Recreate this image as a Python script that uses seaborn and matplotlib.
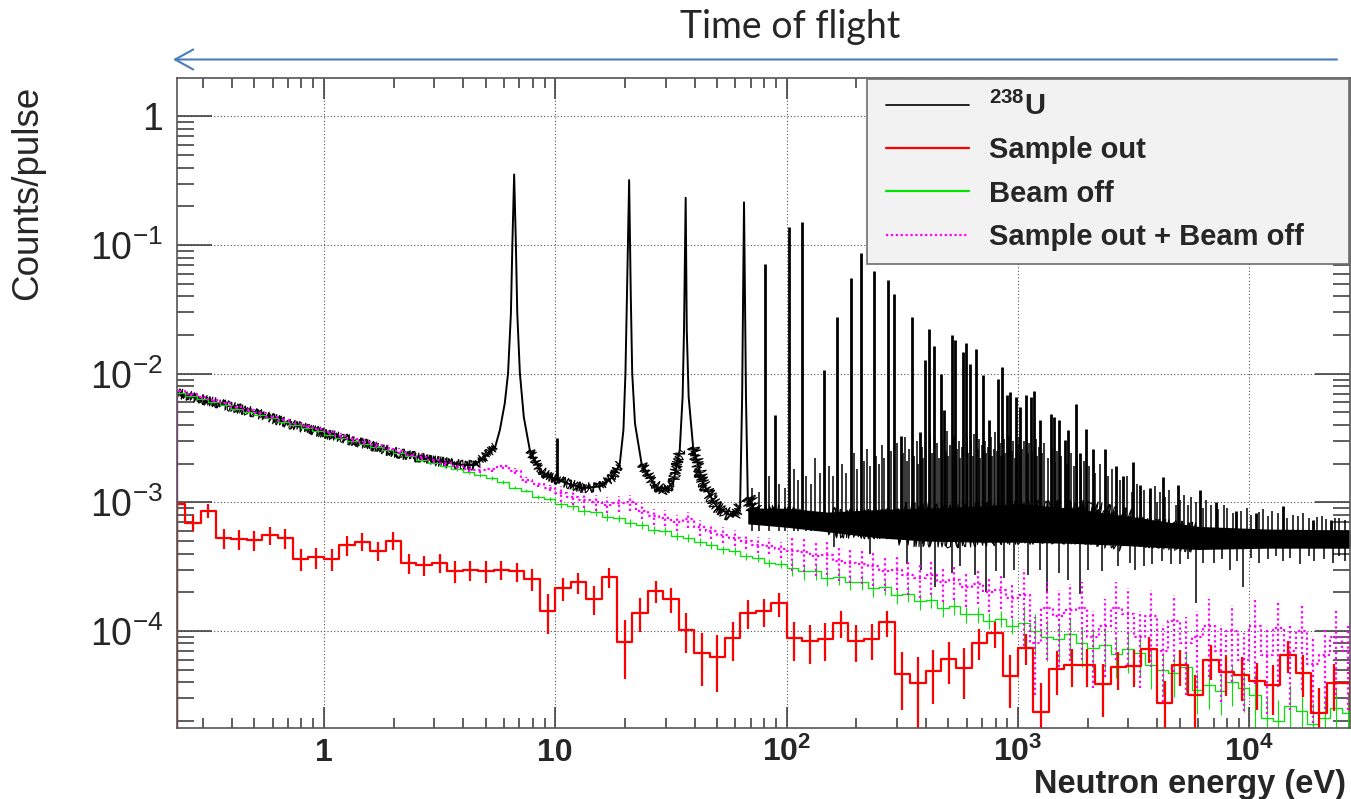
import numpy as np
import matplotlib
matplotlib.use("Agg")
import matplotlib.pyplot as plt
from matplotlib.lines import Line2D
from matplotlib.legend_handler import HandlerLine2D
from matplotlib.ticker import FixedLocator, FixedFormatter, LogLocator, NullFormatter
import seaborn as sns

# ------------------------------------------------------------------ data
# 238U spectrum: continuum incl. the broad s-wave resonances (eV, counts/pulse)
u238_energy = [0.231, 0.3, 0.5, 0.7, 1.0, 1.5, 2.0, 3.0, 4.0, 4.5, 5.0, 5.5,
               5.76, 6.05, 6.25, 6.43, 6.53, 6.64, 6.75, 6.85, 7.03, 7.31, 7.76,
               8.57, 9.45, 11.2, 13.2, 15.6, 17.8, 19.0,
               19.7, 20.1, 20.4, 20.85, 21.2, 21.5, 22.1, 23.6,
               26.5, 29.2, 32.3, 34.5,
               35.5, 36.0, 36.6, 37.0, 37.7, 39.4,
               43.5, 49.7, 58.6, 62.9,
               64.2, 65.4, 66.7, 67.9,
               74, 96, 125.7, 150, 200, 250, 300, 500, 1000, 2000, 3000, 6000, 12000, 27200]
u238_counts = [7.1e-3, 6.3e-3, 5.0e-3, 4.1e-3, 3.45e-3, 2.85e-3, 2.46e-3, 2.1e-3, 1.95e-3, 1.95e-3, 2.3e-3, 2.7e-3,
               3.65e-3, 5.9e-3, 1.01e-2, 2.95e-2, 0.109, 0.354, 0.109, 2.95e-2, 1.01e-2, 4.6e-3, 2.55e-3,
               1.79e-3, 1.58e-3, 1.41e-3, 1.29e-3, 1.33e-3, 1.58e-3, 2.0e-3,
               3.65e-3, 1.01e-2, 3.96e-2, 0.32, 3.96e-2, 1.01e-2, 4.1e-3, 2.0e-3,
               1.41e-3, 1.22e-3, 1.41e-3, 2.55e-3,
               6.6e-3, 2.19e-2, 0.233, 2.19e-2, 6.6e-3, 2.7e-3,
               1.41e-3, 9.3e-4, 7.7e-4, 9.3e-4,
               6.6e-3, 0.215, 6.6e-3, 1.1e-3,
               8.3e-4, 8.3e-4, 7.3e-4, 7.0e-4, 6.8e-4, 6.8e-4, 6.8e-4, 6.5e-4, 7.0e-4, 7.0e-4, 6.0e-4, 5.3e-4, 5.2e-4, 5.2e-4]

# dense unresolved part of the 238U band: energy, lower and upper edge
band_energy = [67.9, 100, 150, 250, 400, 700, 1000, 1700, 3000, 6000, 12000, 27200]
band_low = [6.8e-4, 6.4e-4, 5.9e-4, 5.3e-4, 5.0e-4, 4.9e-4, 4.9e-4, 4.8e-4, 4.6e-4, 4.3e-4, 4.4e-4, 4.4e-4]
band_high = [9.0e-4, 9.0e-4, 8.4e-4, 8.8e-4, 9.0e-4, 9.4e-4, 9.8e-4, 9.0e-4, 7.8e-4, 6.5e-4, 6.2e-4, 6.1e-4]

# narrow 238U resonances: energy, peak value, continuum at the foot
res_energy = [10.2, 80.7, 89.2, 102.5, 116.9, 145.7, 165.3, 189.7, 208.5, 237.4,
              273.7, 291.0, 311.0, 347.8, 376.9, 397.6, 410.3, 434.0, 463.4, 478.0,
              518.5, 535.4, 580.2, 594.9, 619.9, 661.2, 708.3, 752, 820.8, 856.1,
              894.6, 925, 981, 1022, 1083, 1138, 1168, 1245, 1382, 1423,
              1510, 1588, 1641, 1772, 1843, 1970, 2104, 2364, 2655, 2838,
              3135, 3350, 3702, 4226, 4909, 6085, 7182, 8770, 10700, 13960,
              18820, 22590]
res_top = [3.15e-3, 7.08e-2, 4.8e-3, 0.137, 0.150, 1.07e-2, 2.74e-2, 5.57e-2, 8.62e-2, 6.3e-2,
           5.35e-2, 4.14e-2, 3.3e-3, 2.74e-2, 3.5e-3, 1.28e-2, 2.21e-2, 1.64e-2, 9.9e-3, 5.2e-3,
           2.0e-2, 1.83e-2, 1.48e-2, 1.72e-2, 1.2e-2, 1.55e-2, 9.8e-3, 4.4e-3, 9.05e-3, 1.13e-2,
           6.8e-3, 7.2e-3, 6.6e-3, 5.5e-3, 6.8e-3, 6.6e-3, 7.4e-3, 4.4e-3, 4.9e-3, 4.6e-3,
           4.4e-3, 3.05e-3, 3.65e-3, 5.8e-3, 2.4e-3, 3.7e-3, 2.6e-3, 2.6e-3, 1.9e-3, 1.6e-3,
           2.07e-3, 1.37e-3, 1.29e-3, 1.58e-3, 1.37e-3, 1.25e-3, 1.01e-3, 8.5e-4, 8.2e-4, 9.3e-4,
           7.3e-4, 7.3e-4]
res_base = [1.5e-3, 8.5e-4, 8.4e-4, 8.2e-4, 7.8e-4, 7.1e-4, 7.0e-4, 6.9e-4, 6.8e-4, 6.8e-4,
            6.8e-4, 6.8e-4, 6.8e-4, 6.7e-4, 6.7e-4, 6.6e-4, 6.6e-4, 6.6e-4, 6.6e-4, 6.6e-4,
            6.5e-4, 6.5e-4, 6.5e-4, 6.5e-4, 6.6e-4, 6.6e-4, 6.7e-4, 6.7e-4, 6.8e-4, 6.8e-4,
            6.9e-4, 6.9e-4, 7.0e-4, 7.0e-4, 7.0e-4, 7.0e-4, 7.0e-4, 7.0e-4, 7.0e-4, 7.0e-4,
            7.0e-4, 7.0e-4, 7.0e-4, 7.0e-4, 7.0e-4, 7.0e-4, 6.8e-4, 6.6e-4, 6.4e-4, 6.2e-4,
            6.0e-4, 5.9e-4, 5.8e-4, 5.6e-4, 5.5e-4, 5.3e-4, 5.3e-4, 5.2e-4, 5.2e-4, 5.2e-4,
            5.2e-4, 5.2e-4]
# small unresolved resonances rising out of the band (estimated)
minor_energy = [71, 76, 84, 93, 98, 108, 112, 121, 127, 133, 139, 152, 158, 173, 180, 196, 202, 216, 222, 229,
                244, 251, 258, 264, 282, 300, 319, 326, 332, 339, 356, 364, 370, 385, 390, 418, 424, 447, 454, 470,
                486, 493, 500, 509, 526, 545, 554, 563, 571, 602, 610, 628, 637, 646, 669, 678, 688, 697, 718, 727,
                740, 762, 774, 786, 796, 808, 832, 844, 868, 880, 906, 916, 940, 955, 966, 995, 1008, 1040, 1060, 1100,
                1115, 1150, 1190, 1210, 1230, 1270, 1300, 1350, 1400, 1450, 1480, 1540, 1620, 1700, 1740, 1800, 1880, 1920, 2030, 2150,
                2250, 2450, 2550, 2750, 2950, 3250, 3500, 3900, 4100, 4500, 5200, 5600, 6500, 7800, 9800, 11500, 12500, 15500, 17000, 20500,
                24500, 3100, 3400, 3700, 4000, 4300, 4800, 5000, 5400, 5900, 6300, 6800, 7300, 8000, 8500, 9200,
                10200, 11000, 12000, 13300, 14600, 16200, 18000, 19500, 21500, 23500, 26000]
minor_top = [1.3e-3, 1.2e-3, 1.6e-3, 1.4e-3, 1.3e-3, 1.8e-3, 1.5e-3, 1.6e-3, 1.4e-3, 2.2e-3, 1.7e-3, 1.9e-3, 1.6e-3, 2.0e-3, 1.7e-3, 2.4e-3, 1.8e-3, 2.1e-3, 2.6e-3, 1.9e-3,
             2.3e-3, 2.0e-3, 2.8e-3, 2.2e-3, 2.5e-3, 2.9e-3, 2.4e-3, 3.2e-3, 2.1e-3, 2.6e-3, 2.3e-3, 3.0e-3, 2.0e-3, 2.7e-3, 2.2e-3, 3.4e-3, 2.4e-3, 2.9e-3, 2.2e-3, 3.1e-3,
             2.5e-3, 3.6e-3, 2.3e-3, 2.8e-3, 3.3e-3, 2.6e-3, 3.0e-3, 2.2e-3, 2.7e-3, 3.2e-3, 2.4e-3, 2.9e-3, 2.3e-3, 3.4e-3, 2.6e-3, 3.1e-3, 2.2e-3, 2.8e-3, 3.0e-3, 2.4e-3,
             2.7e-3, 3.2e-3, 2.3e-3, 2.6e-3, 3.5e-3, 2.5e-3, 2.9e-3, 2.3e-3, 3.1e-3, 2.4e-3, 2.7e-3, 3.3e-3, 2.5e-3, 3.0e-3, 2.2e-3, 2.8e-3, 3.2e-3, 2.6e-3, 3.0e-3, 2.4e-3,
             2.9e-3, 2.5e-3, 3.1e-3, 2.3e-3, 2.7e-3, 2.4e-3, 2.9e-3, 2.2e-3, 2.6e-3, 2.1e-3, 2.5e-3, 2.3e-3, 2.0e-3, 2.4e-3, 1.9e-3, 2.2e-3, 1.8e-3, 2.1e-3, 1.9e-3, 1.7e-3,
             2.0e-3, 1.6e-3, 1.8e-3, 1.5e-3, 1.6e-3, 1.4e-3, 1.25e-3, 1.35e-3, 1.2e-3, 1.25e-3, 1.15e-3, 1.1e-3, 1.05e-3, 9.5e-4, 9.0e-4, 8.8e-4, 8.5e-4, 8.0e-4, 8.3e-4, 7.8e-4,
             7.6e-4, 1.2e-3, 1.05e-3, 1.15e-3, 1.0e-3, 1.1e-3, 9.5e-4, 1.05e-3, 9.5e-4, 1.0e-3, 9.0e-4, 9.5e-4, 8.8e-4, 9.0e-4, 8.3e-4, 8.6e-4,
             8.0e-4, 8.4e-4, 7.8e-4, 8.2e-4, 7.6e-4, 7.9e-4, 7.5e-4, 7.7e-4, 7.4e-4, 7.6e-4, 7.3e-4]
minor_foot = 6.0e-4
# downward fluctuations of the 238U band: energy, lowest value
dip_energy = [160, 230, 330, 380, 436, 520, 560, 650, 729, 800, 870, 960, 1100, 1250, 1332, 1500, 1650, 1843,
              2000, 2300, 2700, 3200, 3800, 4600, 5888, 7000, 8200, 9376, 11000, 14000, 16500, 19000, 23000, 26000,
              3050, 3500, 4200, 5000, 5400, 6300, 7600, 8800, 10200, 12000, 13000, 15000, 18000, 21000, 24500]
dip_low = [4.5e-4, 4.0e-4, 3.3e-4, 3.0e-4, 2.2e-4, 2.8e-4, 3.2e-4, 2.7e-4, 2.0e-4, 2.9e-4, 2.6e-4, 3.0e-4, 2.7e-4, 3.0e-4,
           1.97e-4, 2.8e-4, 2.5e-4, 1.94e-4, 3.0e-4, 2.9e-4, 3.2e-4, 3.0e-4, 3.3e-4, 3.3e-4, 1.64e-4, 3.4e-4, 3.0e-4,
           2.2e-4, 3.4e-4, 3.5e-4, 3.3e-4, 3.5e-4, 3.4e-4, 3.5e-4,
           3.4e-4, 3.2e-4, 3.5e-4, 3.3e-4, 3.6e-4, 3.4e-4, 3.6e-4, 3.5e-4, 3.7e-4, 3.6e-4, 3.8e-4, 3.7e-4, 3.8e-4, 3.6e-4, 3.8e-4]
dip_foot = 6.0e-4
# statistical scatter of the 238U band: energy range, half-width and wavelength (pixels)
noise_bands = [(0.231, 5.5, 5.0, 1.6), (7.76, 19.0, 5.0, 1.6), (23.6, 34.5, 5.5, 1.6), (39.4, 62.9, 6.5, 1.6),
               (67.9, 27200, 8.0, 1.6), (150, 6000, 15.0, 7.0), (300, 3000, 22.0, 9.0)]

# Sample out: 15 bins / decade, first bin edge 10^(-10/15)
red_bins_per_decade = 15
red_first_edge = -10
red_counts = [9.66e-4, 6.95e-4, 8.62e-4, 5.26e-4, 5.16e-4, 5.10e-4, 5.55e-4, 5.26e-4, 3.63e-4, 3.74e-4,
              3.63e-4, 4.64e-4, 4.95e-4, 4.22e-4, 5.04e-4, 3.36e-4, 3.26e-4, 3.40e-4, 2.93e-4, 2.98e-4,
              2.92e-4, 2.98e-4, 2.90e-4, 2.54e-4, 1.44e-4, 2.15e-4, 2.39e-4, 1.77e-4, 2.62e-4, 8.23e-5,
              1.39e-4, 2.05e-4, 1.77e-4, 1.02e-4, 6.72e-5, 6.33e-5, 8.83e-5, 1.39e-4, 1.42e-4, 1.64e-4,
              8.83e-5, 8.33e-5, 8.63e-5, 1.15e-4, 8.42e-5, 8.63e-5, 1.17e-4, 4.61e-5, 3.93e-5, 4.92e-5,
              6.04e-5, 5.14e-5, 8.13e-5, 9.61e-5, 4.50e-5, 7.43e-5, 2.36e-5, 5.05e-5, 5.45e-5, 5.45e-5,
              3.86e-5, 5.20e-5, 5.36e-5, 7.30e-5, 2.77e-5, 5.45e-5, 3.15e-5, 5.96e-5, 4.83e-5, 4.56e-5,
              4.05e-5, 3.81e-5, 6.52e-5, 4.75e-5, 2.30e-5, 3.97e-5, 3.97e-5]
red_errors = [1.1e-4, 1.0e-4, 1.1e-4, 0.9e-4, 0.9e-4, 0.9e-4, 0.9e-4, 0.9e-4, 0.7e-4, 0.7e-4,
              0.7e-4, 0.8e-4, 0.8e-4, 0.7e-4, 0.8e-4, 0.6e-4, 0.6e-4, 0.6e-4, 0.55e-4, 0.55e-4,
              0.55e-4, 0.5e-4, 0.5e-4, 0.5e-4, 0.5e-4, 0.45e-4, 0.45e-4, 0.45e-4, 0.45e-4, 0.4e-4,
              0.4e-4, 0.4e-4, 0.4e-4, 0.35e-4, 0.3e-4, 0.3e-4, 0.3e-4, 0.35e-4, 0.35e-4, 0.35e-4,
              0.3e-4, 0.28e-4, 0.28e-4, 0.27e-4, 0.27e-4, 0.27e-4, 0.27e-4, 0.22e-4, 0.23e-4, 0.22e-4,
              0.22e-4, 0.22e-4, 0.22e-4, 0.22e-4, 0.2e-4, 0.2e-4, 0.16e-4, 0.19e-4, 0.18e-4, 0.18e-4,
              0.17e-4, 0.17e-4, 0.17e-4, 0.17e-4, 0.13e-4, 0.17e-4, 0.14e-4, 0.18e-4, 0.17e-4, 0.17e-4,
              0.16e-4, 0.16e-4, 0.18e-4, 0.17e-4, 0.13e-4, 0.16e-4, 0.16e-4]

# Beam off / Sample out + Beam off: 20 bins / decade, first bin edge 10^(-13/20)
fine_bins_per_decade = 20
fine_first_edge = -13
green_counts = [7.14e-3, 6.75e-3, 6.37e-3, 6.01e-3, 5.66e-3, 5.35e-3, 5.05e-3, 4.75e-3, 4.49e-3, 4.24e-3,
                3.99e-3, 3.77e-3, 3.56e-3, 3.36e-3, 3.18e-3, 3.01e-3, 2.84e-3, 2.69e-3, 2.54e-3, 2.40e-3,
                2.28e-3, 2.15e-3, 2.04e-3, 1.92e-3, 1.82e-3, 1.72e-3, 1.63e-3, 1.55e-3, 1.44e-3, 1.30e-3,
                1.23e-3, 1.10e-3, 1.06e-3, 9.7e-4, 9.4e-4, 8.6e-4, 8.4e-4, 7.7e-4, 7.5e-4, 6.9e-4,
                6.7e-4, 6.1e-4, 6.0e-4, 5.5e-4, 5.3e-4, 4.9e-4, 4.7e-4, 4.3e-4, 4.2e-4, 3.8e-4,
                3.7e-4, 3.4e-4, 3.3e-4, 3.1e-4, 2.9e-4, 2.9e-4, 2.6e-4, 2.65e-4, 2.4e-4, 2.4e-4,
                2.15e-4, 2.2e-4, 1.9e-4, 1.95e-4, 1.7e-4, 1.75e-4, 1.5e-4, 1.55e-4, 1.35e-4, 1.35e-4,
                1.2e-4, 1.25e-4, 1.1e-4, 1.15e-4, 1.0e-4, 9.0e-5, 8.6e-5, 9.5e-5, 8.0e-5, 7.4e-5,
                7.8e-5, 6.6e-5, 7.3e-5, 6.8e-5, 5.4e-5, 5.0e-5, 4.7e-5, 5.2e-5, 3.5e-5, 3.8e-5,
                3.4e-5, 4.0e-5, 3.6e-5, 3.2e-5, 2.1e-5, 2.0e-5, 2.6e-5, 2.4e-5, 1.9e-5, 2.1e-5,
                2.5e-5, 2.3e-5]
magenta_counts = [7.4e-3, 6.9e-3, 6.6e-3, 6.2e-3, 5.9e-3, 5.5e-3, 5.2e-3, 4.95e-3, 4.6e-3, 4.4e-3,
                  4.1e-3, 3.9e-3, 3.7e-3, 3.5e-3, 3.3e-3, 3.1e-3, 2.95e-3, 2.8e-3, 2.65e-3, 2.5e-3,
                  2.35e-3, 2.25e-3, 2.12e-3, 2.02e-3, 1.9e-3, 1.82e-3, 1.78e-3, 1.8e-3, 1.9e-3, 1.75e-3,
                  1.5e-3, 1.38e-3, 1.3e-3, 1.18e-3, 1.1e-3, 1.05e-3, 1.0e-3, 9.6e-4, 9.8e-4, 1.0e-3,
                  8.6e-4, 7.8e-4, 7.6e-4, 7.0e-4, 7.4e-4, 6.4e-4, 6.0e-4, 5.6e-4, 5.3e-4, 5.0e-4,
                  4.7e-4, 4.6e-4, 4.3e-4, 4.2e-4, 4.1e-4, 3.8e-4, 3.9e-4, 3.5e-4, 3.4e-4, 3.3e-4,
                  3.2e-4, 2.9e-4, 3.0e-4, 2.7e-4, 2.6e-4, 2.7e-4, 2.4e-4, 2.5e-4, 2.2e-4, 2.3e-4,
                  2.0e-4, 2.1e-4, 1.8e-4, 1.9e-4, 8.0e-5, 1.5e-4, 1.3e-4, 1.45e-4, 1.5e-4, 9.0e-5,
                  1.1e-4, 1.5e-4, 1.35e-4, 9.0e-5, 1.3e-4, 7.0e-5, 1.2e-4, 8.0e-5, 9.0e-5, 1.1e-4,
                  7.0e-5, 1.0e-4, 6.0e-5, 1.1e-4, 6.5e-5, 1.05e-4, 7.0e-5, 1.0e-4, 5.5e-5, 6.5e-5,
                  9.0e-5, 7.0e-5]
decade_bounds = [1, 10, 100, 1000, 10000]
green_rel_err = [0.02, 0.03, 0.07, 0.14, 0.35, 0.45]
magenta_rel_err = [0.03, 0.05, 0.14, 0.30, 0.60, 0.65]

legend_labels = [r"$^{\mathdefault{238}}$U", "Sample out", "Beam off", "Sample out + Beam off"]
x_ticks = [1, 10, 100, 1000, 10000]
x_tick_labels = ["1", "10", r"$\mathdefault{10^{2}}$", r"$\mathdefault{10^{3}}$", r"$\mathdefault{10^{4}}$"]
y_ticks = [1e-4, 1e-3, 1e-2, 1e-1, 1]
y_tick_labels = [r"$\mathdefault{10^{-4}}$", r"$\mathdefault{10^{-3}}$", r"$\mathdefault{10^{-2}}$",
                 r"$\mathdefault{10^{-1}}$", "1"]
x_range = (0.2311, 27200)
y_range = (1.77e-5, 1.99)

# ------------------------------------------------------------------ style
sns.set_style("ticks")
plt.rcParams["font.family"] = ["Liberation Sans", "DejaVu Sans"]
plt.rcParams["mathtext.fontset"] = "custom"
plt.rcParams["mathtext.rm"] = "Liberation Sans"
plt.rcParams["mathtext.bf"] = "Liberation Sans:bold"
plt.rcParams["mathtext.it"] = "Liberation Sans:italic"
plt.rcParams["path.simplify"] = False

BLACK, RED, GREEN, MAGENTA = "black", "#ff0000", "#00e600", "#ff00ff"

W, H = 1351, 799
fig = plt.figure(figsize=(W / 100, H / 100), dpi=100)
fig.patch.set_facecolor("white")
ax_l, ax_r, ax_t, ax_b = 176.7, 1350.0, 78.0, 727.7
ax = fig.add_axes([ax_l / W, 1 - ax_b / H, (ax_r - ax_l) / W, (ax_b - ax_t) / H])
ax.set_xscale("log")
ax.set_yscale("log")
ax.set_xlim(*x_range)
ax.set_ylim(*y_range)


def sns_line(x, y, **kw):
    n0 = len(ax.lines)
    sns.lineplot(x=np.asarray(x, float), y=np.asarray(y, float), ax=ax,
                 estimator=None, sort=False, legend=False, **kw)
    return ax.lines[n0:]


# ---- 238U
E = np.array(u238_energy)
C = np.array(u238_counts)
ax.fill_between(band_energy, band_low, band_high, color=BLACK, linewidth=0, zorder=1.9)
sns_line(E, C, color=BLACK, linewidth=1.4)
for lo, hi, scale, wave in noise_bands:
    m = (E >= lo) & (E <= hi)
    for rnd in (2.0, 4.0):
        for ln in sns_line(E[m], C[m], color=BLACK, linewidth=0.8):
            ln.set_sketch_params(scale=scale, length=wave, randomness=rnd)
ax.vlines(minor_energy, minor_foot, minor_top, colors=BLACK, linewidth=1.1)
ax.vlines(dip_energy, dip_low, dip_foot, colors=BLACK, linewidth=1.1)
ax.vlines(res_energy, res_base, res_top, colors=BLACK, linewidth=2.0)


def decade_index(centers):
    return np.searchsorted(decade_bounds, centers)


# ---- Beam off (green)
g = np.array(green_counts)
g_edges = 10.0 ** (np.arange(fine_first_edge, fine_first_edge + len(g) + 1) / fine_bins_per_decade)
g_cent = np.sqrt(g_edges[:-1] * g_edges[1:])
g_err = g * np.array(green_rel_err)[decade_index(g_cent)]
sns_line(g_edges, np.append(g, g[-1]), color=GREEN, linewidth=0.9, drawstyle="steps-post")
ax.vlines(g_cent, g - g_err, g + g_err, colors=GREEN, linewidth=0.8)

# ---- Sample out + Beam off (magenta, dotted)
mg = np.array(magenta_counts)
m_err = mg * np.array(magenta_rel_err)[decade_index(g_cent)]
sns_line(g_edges, np.append(mg, mg[-1]), color=MAGENTA, linewidth=1.6,
         linestyle=(0, (1, 1.3)), drawstyle="steps-post")
ax.vlines(g_cent, mg - m_err, mg + m_err, colors=MAGENTA, linewidth=1.6, linestyles=[(0, (1, 1.3))])

# ---- Sample out (red)
r = np.array(red_counts)
r_edges = 10.0 ** (np.arange(red_first_edge, red_first_edge + len(r) + 1) / red_bins_per_decade)
r_cent = np.sqrt(r_edges[:-1] * r_edges[1:])
r_err = np.array(red_errors)
sns_line(r_edges, np.append(r, r[-1]), color=RED, linewidth=1.6, drawstyle="steps-post")
ax.vlines(r_cent, np.clip(r - r_err, 1e-7, None), r + r_err, colors=RED, linewidth=1.6)

# histogram left edges rising from the axis floor
ax.vlines([x_range[0]] * 3, y_range[0], [g[0], mg[0], r[0]],
          colors=[GREEN, MAGENTA, RED], linewidth=1.6)

ax.set_xlim(*x_range)
ax.set_ylim(*y_range)

# ------------------------------------------------------------------ axes decoration
ax.xaxis.set_major_locator(FixedLocator(x_ticks))
ax.xaxis.set_major_formatter(FixedFormatter(x_tick_labels))
ax.yaxis.set_major_locator(FixedLocator(y_ticks))
ax.yaxis.set_major_formatter(FixedFormatter(y_tick_labels))
ax.xaxis.set_minor_locator(LogLocator(base=10, subs=np.arange(2, 10), numticks=30))
ax.yaxis.set_minor_locator(LogLocator(base=10, subs=np.arange(2, 10), numticks=30))
ax.xaxis.set_minor_formatter(NullFormatter())
ax.yaxis.set_minor_formatter(NullFormatter())

ax.tick_params(axis="both", which="both", direction="in", top=True, right=True,
               color="#333333", width=1.1)
ax.tick_params(axis="x", which="major", length=15, pad=24.3, labelsize=23)
ax.tick_params(axis="x", which="minor", length=7.5)
ax.tick_params(axis="y", which="major", length=25, pad=10, labelsize=27)
ax.tick_params(axis="y", which="minor", length=12.5)
for t in ax.xaxis.get_major_ticks():
    t.label1.set_fontweight("bold")
    t.label1.set_verticalalignment("baseline")

ax.grid(True, which="major", axis="both", color="#555555", linestyle=(0, (1, 2)), linewidth=0.8)
ax.grid(False, which="minor")
for s in ax.spines.values():
    s.set_color("#555555")
    s.set_linewidth(1.2)

ax.set_ylabel("Counts/pulse", fontsize=26.5)
ax.yaxis.set_label_coords((28 - ax_l) / (ax_r - ax_l), (ax_b - 193) / (ax_b - ax_t))
ax.yaxis.label.set_verticalalignment("center")
ax.set_xlabel("Neutron energy (eV)", fontsize=23.5, fontweight="bold")
ax.xaxis.set_label_coords((1346 - ax_l) / (ax_r - ax_l), (ax_b - 792.5) / (ax_b - ax_t))
ax.xaxis.label.set_horizontalalignment("right")
ax.xaxis.label.set_verticalalignment("baseline")

# legend
handles = [Line2D([], [], color=BLACK, lw=1.2),
           Line2D([], [], color=RED, lw=1.6),
           Line2D([], [], color=GREEN, lw=1.6),
           Line2D([], [], color=MAGENTA, lw=1.6, linestyle=(0, (1, 1.2)))]
x0 = (867 - ax_l) / (ax_r - ax_l)
x1 = (1349 - ax_l) / (ax_r - ax_l)
yt = (ax_b - 79) / (ax_b - ax_t)
yb = (ax_b - 259) / (ax_b - ax_t)
leg = ax.legend(handles, legend_labels, loc="upper left", bbox_to_anchor=(x0, yb, x1 - x0, yt - yb),
                mode="expand", borderaxespad=0,
                prop=dict(family="Liberation Sans", weight="bold", size=21),
                handlelength=3.04, handletextpad=0.68, labelspacing=0.52, borderpad=0.45,
                handler_map={Line2D: HandlerLine2D(xpad=0.2)},
                fancybox=False, framealpha=1, facecolor="#f2f2f2", edgecolor="#6e6e6e")
leg.get_frame().set_linewidth(1.2)

# time-of-flight arrow and caption
ax.annotate("", xy=(173, H - 59.5), xycoords="figure pixels",
            xytext=(1337, H - 59.5), textcoords="figure pixels",
            arrowprops=dict(arrowstyle="->,head_length=0.65,head_width=0.36", color="#4a7ebb",
                            lw=1.5, mutation_scale=20, shrinkA=0, shrinkB=0),
            annotation_clip=False)
fig.text(790 / W, 1 - 38 / H, "Time of flight", ha="center", va="baseline",
         fontsize=27, family=["Lato", "DejaVu Sans"])

fig.savefig("out.png", dpi=100, facecolor="white")
